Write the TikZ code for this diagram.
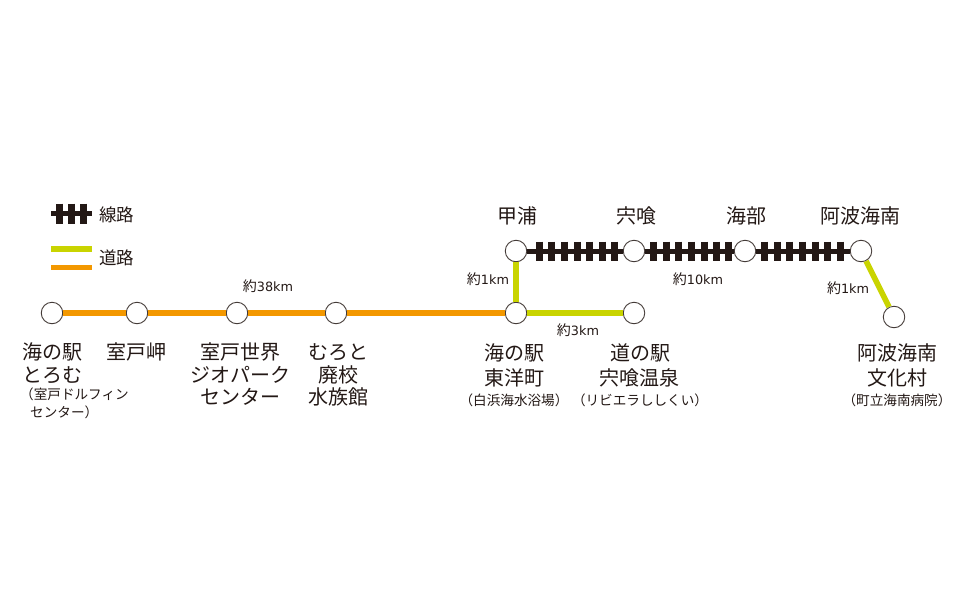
\documentclass[tikz,border=0pt]{standalone}
\usepackage{fontspec}
\setmainfont{Noto Sans CJK JP}
\newfontfamily\kmfont{DejaVu Sans}
\newcommand{\kmtext}[1]{約{\kmfont\fontsize{12.8}{15}\selectfont #1}}
\definecolor{orangeroad}{HTML}{F39800}
\definecolor{limeroad}{HTML}{C9D400}
\definecolor{trackblack}{HTML}{231815}
\definecolor{labelgrey}{HTML}{231815}
\tikzset{
  station/.style={circle,draw=trackblack!85,line width=0.9pt,fill=white,inner sep=0pt,minimum size=21.5pt},
  orangeline/.style={draw=orangeroad,line width=5.6pt},
  limeline/.style={draw=limeroad,line width=5.6pt},
  trackline/.style={draw=trackblack,line width=5pt},
  tie/.style={draw=trackblack,line width=7pt},
  biglabel/.style={text=labelgrey,font=\fontsize{20}{24}\selectfont,inner sep=0pt,align=center},
  smalllabel/.style={text=labelgrey,font=\fontsize{13.6}{16}\selectfont,inner sep=0pt,align=center},
  kmlabel/.style={text=labelgrey,font=\fontsize{14}{16}\selectfont,inner sep=0pt},
}
\begin{document}
\begin{tikzpicture}[x=1pt,y=-1pt]
\useasboundingbox (0,0) rectangle (968,605);
% stations
\node[station] (toromu) at (52,313) {};
\node[station] (muroto) at (137,313) {};
\node[station] (geo) at (237,313) {};
\node[station] (haiko) at (336,313) {};
\node[station] (toyo) at (516,313) {};
\node[station] (shishikui) at (634,313) {};
\node[station] (kannoura) at (516,251) {};
\node[station] (shishikuist) at (634,251) {};
\node[station] (kaifu) at (745,251) {};
\node[station] (awakainan) at (861,251) {};
\node[station] (bunka) at (894,317) {};
% roads
\draw[orangeline] (toromu) -- (muroto);
\draw[orangeline] (muroto) -- (geo);
\draw[orangeline] (geo) -- (haiko);
\draw[orangeline] (haiko) -- (toyo);
\draw[limeline] (toyo) -- (kannoura);
\draw[limeline] (toyo) -- (shishikui);
\draw[limeline] (awakainan) -- (bunka);
% track
\draw[trackline] (kannoura) -- (shishikuist);
\draw[trackline] (shishikuist) -- (kaifu);
\draw[trackline] (kaifu) -- (awakainan);
\foreach \x in {539,551,564,577,589,602,614,653,666,678.5,691.5,704,716,728,764,777,789,802,815,827,840}
  \draw[tie] (\x,241.5) -- (\x,261);
% legend
\coordinate (legtrackA) at (51,213.5);
\coordinate (legtrackB) at (92,213.5);
\draw[trackline] (legtrackA) -- (legtrackB);
\foreach \x in {59,71,83}
  \draw[tie] (\x,203.5) -- (\x,223.5);
\coordinate (leglimeA) at (51,249);
\coordinate (leglimeB) at (92,249);
\coordinate (legorangeA) at (51,267.5);
\coordinate (legorangeB) at (92,267.5);
\draw[limeline] (leglimeA) -- (leglimeB);
\draw[orangeline] (legorangeA) -- (legorangeB);
\node[biglabel,font=\fontsize{17.5}{20}\selectfont] (legt) at (116.5,215) {線路};
\node[biglabel,font=\fontsize{17.5}{20}\selectfont] (legr) at (116.5,258) {道路};
% upper labels
\node[biglabel] (l1) at (517,216) {甲浦};
\node[biglabel] (l2) at (636,216) {宍喰};
\node[biglabel] (l3) at (746,216) {海部};
\node[biglabel] (l4) at (860,216) {阿波海南};
% lower labels
\node[biglabel] (t1) at (52,352) {海の駅};
\node[biglabel] (t2) at (52,375) {とろむ};
\node[smalllabel,anchor=west] (t3) at (20,394) {（室戸ドルフィン};
\node[smalllabel,anchor=west] (t4) at (30,412) {センター）};
\node[biglabel] (m1) at (136,352) {室戸岬};
\node[biglabel] (g1) at (240,352) {室戸世界};
\node[biglabel] (g2) at (240,375) {ジオパーク};
\node[biglabel] (g3) at (240,397) {センター};
\node[biglabel] (h1) at (338,352) {むろと};
\node[biglabel] (h2) at (338,375) {廃校};
\node[biglabel] (h3) at (338,397) {水族館};
\node[biglabel] (y1) at (514,353) {海の駅};
\node[biglabel] (y2) at (514,378) {東洋町};
\node[smalllabel] (y3) at (514,400) {（白浜海水浴場）};
\node[biglabel] (s1) at (640,353) {道の駅};
\node[biglabel] (s2) at (639,378) {宍喰温泉};
\node[smalllabel] (s3) at (640,400) {（リビエラししくい）};
\node[biglabel] (b1) at (897,353) {阿波海南};
\node[biglabel] (b2) at (897,378) {文化村};
\node[smalllabel] (b3) at (897,400) {（町立海南病院）};
% distances
\node[kmlabel] (k1) at (268,286) {\kmtext{38km}};
\node[kmlabel] (k2) at (488,279) {\kmtext{1km}};
\node[kmlabel] (k3) at (698,279) {\kmtext{10km}};
\node[kmlabel] (k4) at (578,330) {\kmtext{3km}};
\node[kmlabel] (k5) at (848,288) {\kmtext{1km}};
\end{tikzpicture}
\end{document}
